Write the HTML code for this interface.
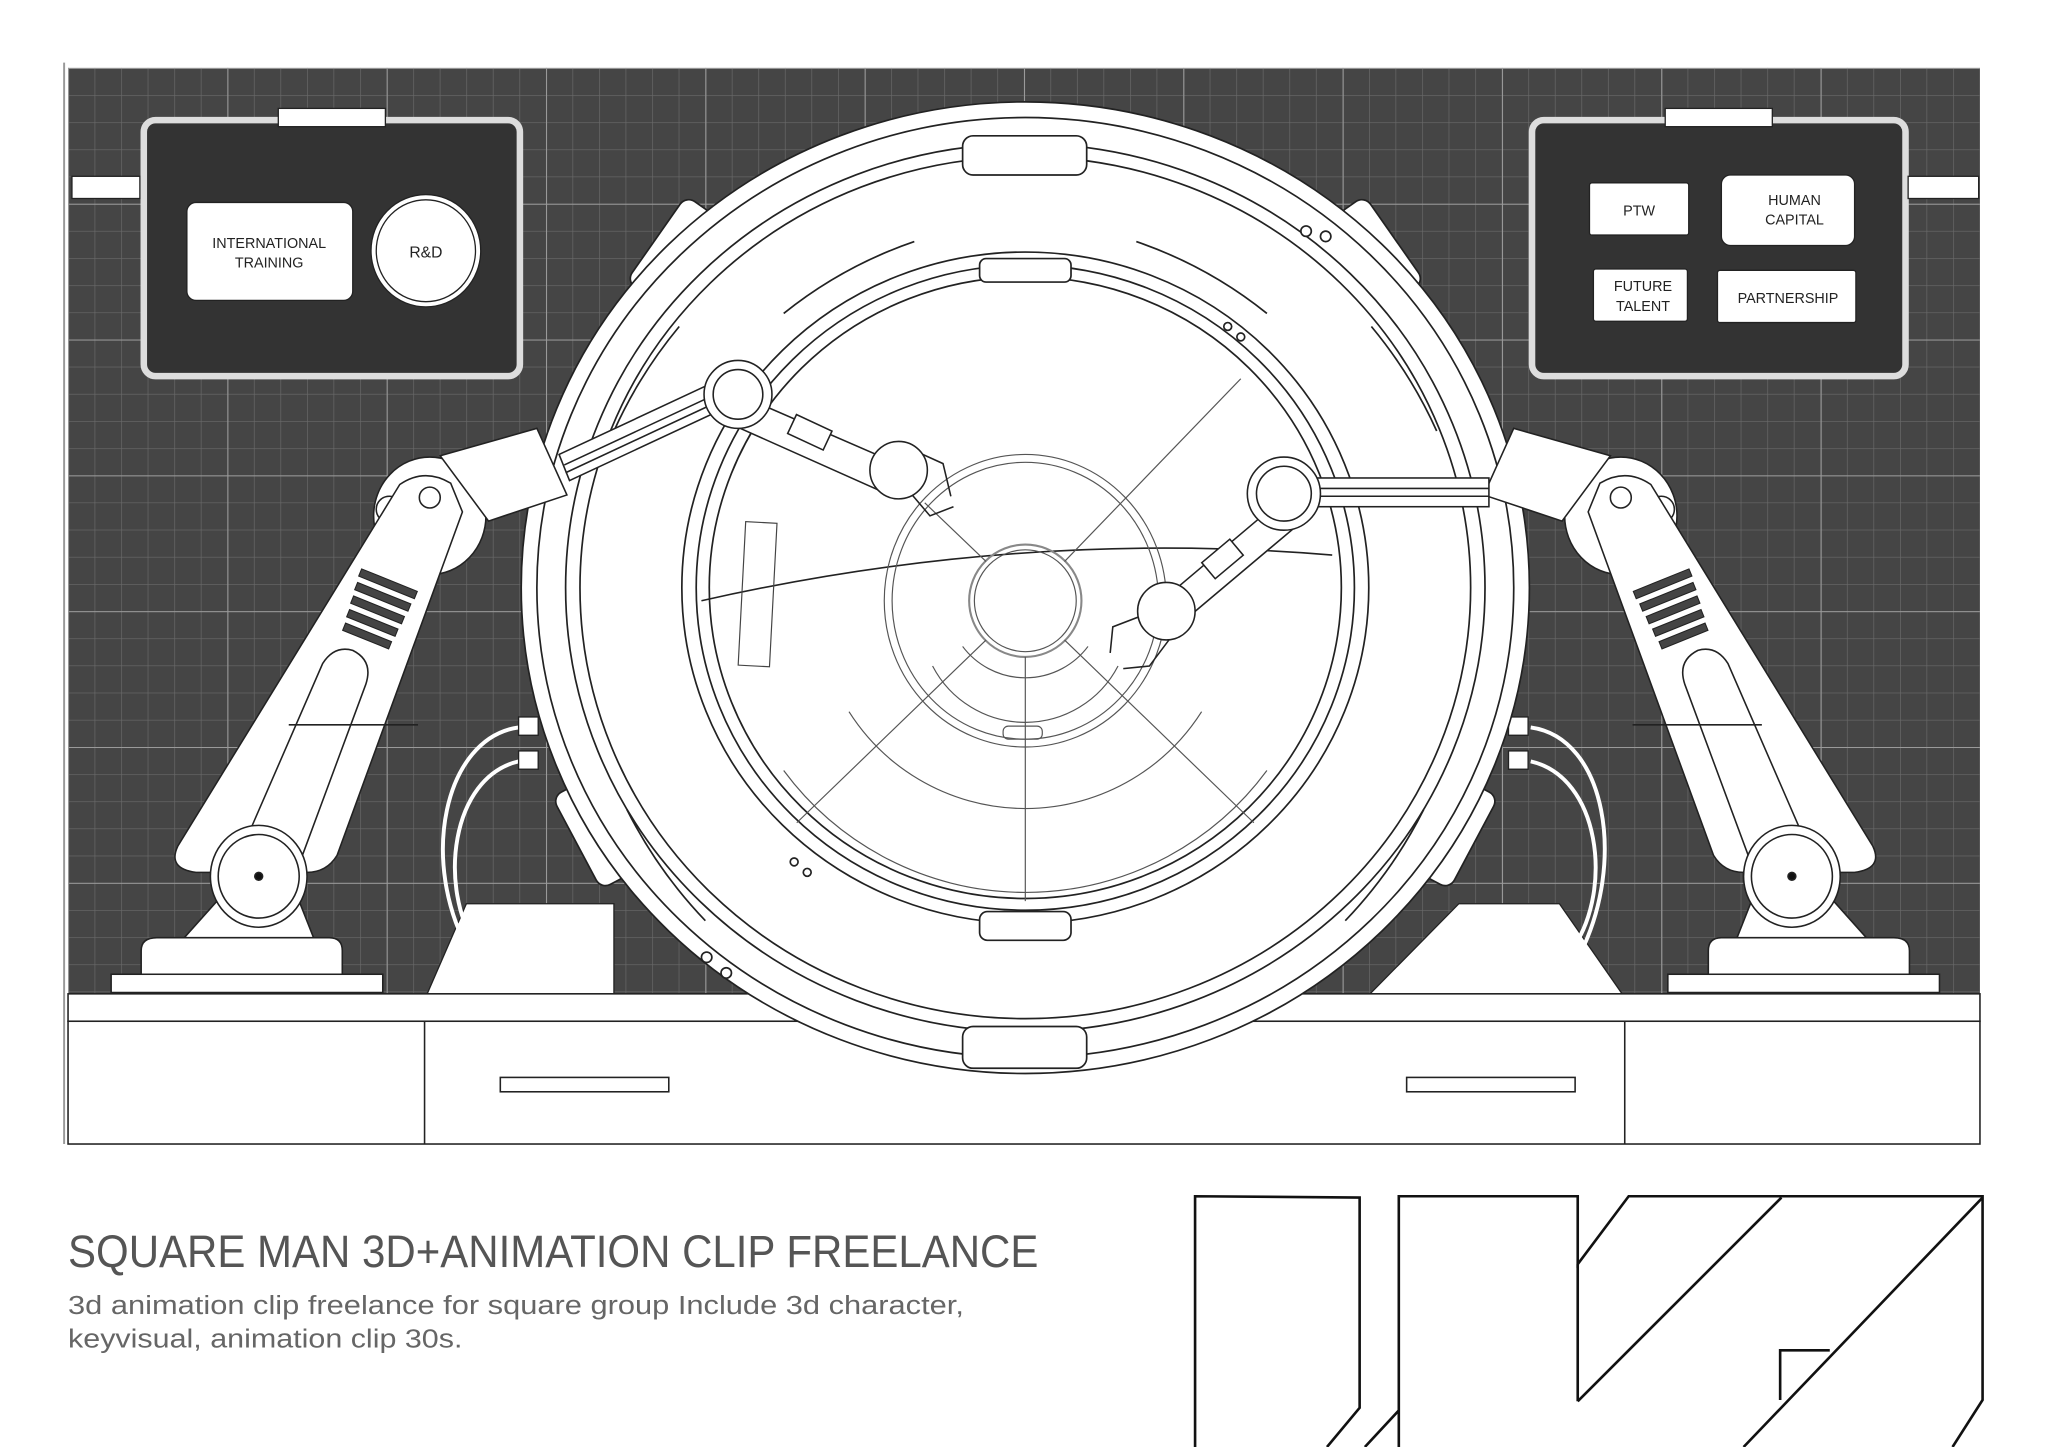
<!DOCTYPE html>
<html><head><meta charset="utf-8"><style>
html,body{margin:0;padding:0;background:#fff;}
svg{display:block;}
</style></head><body>
<svg width="2048" height="1447" viewBox="0 0 1568 1108" xmlns="http://www.w3.org/2000/svg">
<defs>
<pattern id="minor" x="52" y="52" width="20.33" height="20.8" patternUnits="userSpaceOnUse">
<path d="M0 0H20.33M0 0V20.8" stroke="#6a6a6a" stroke-width="1" fill="none"/>
</pattern>
<pattern id="major" x="52" y="52" width="122" height="104" patternUnits="userSpaceOnUse">
<path d="M0 0H122M0 0V104" stroke="#9a9a9a" stroke-width="1.6" fill="none"/>
</pattern>
</defs>
<rect width="1568" height="1108" fill="#fff"/>
<rect x="52" y="52" width="1464" height="710" fill="#454545"/>
<rect x="52" y="52" width="1464" height="710" fill="url(#minor)"/>
<rect x="52" y="52" width="1464" height="710" fill="url(#major)"/>
<line x1="49" y1="48" x2="49" y2="876" stroke="#999" stroke-width="1.5"/>

<rect x="110" y="92" width="288" height="196" rx="9" fill="#333" stroke="#ddd" stroke-width="5"/>
<rect x="213" y="83" width="82" height="14" fill="#fff" stroke="#222" stroke-width="1"/>
<rect x="55" y="135" width="52" height="17" fill="#fff" stroke="#222" stroke-width="1"/>
<rect x="143" y="155" width="127" height="75" rx="7" fill="#fff" stroke="#222"/>
<text x="206" y="190" font-family="Liberation Sans, sans-serif" font-size="11" text-anchor="middle" fill="#222">INTERNATIONAL</text>
<text x="206" y="205" font-family="Liberation Sans, sans-serif" font-size="11" text-anchor="middle" fill="#222">TRAINING</text>
<ellipse cx="326" cy="192" rx="42" ry="43" fill="#fff" stroke="#222"/>
<ellipse cx="326" cy="192" rx="38" ry="39" fill="none" stroke="#222"/>
<text x="326" y="197" font-family="Liberation Sans, sans-serif" font-size="12" text-anchor="middle" fill="#222">R&amp;D</text>

<rect x="1173" y="92" width="286" height="196" rx="9" fill="#333" stroke="#ddd" stroke-width="5"/>
<rect x="1275" y="83" width="82" height="14" fill="#fff" stroke="#222"/>
<rect x="1461" y="135" width="54" height="17" fill="#fff" stroke="#222"/>
<rect x="1217" y="140" width="76" height="40" rx="2" fill="#fff" stroke="#222"/>
<text x="1255" y="165" font-family="Liberation Sans, sans-serif" font-size="11" text-anchor="middle" fill="#222">PTW</text>
<rect x="1318" y="134" width="102" height="54" rx="7" fill="#fff" stroke="#222"/>
<text x="1374" y="157" font-family="Liberation Sans, sans-serif" font-size="11" text-anchor="middle" fill="#222">HUMAN</text>
<text x="1374" y="172" font-family="Liberation Sans, sans-serif" font-size="11" text-anchor="middle" fill="#222">CAPITAL</text>
<rect x="1220" y="206" width="72" height="40" rx="2" fill="#fff" stroke="#222"/>
<text x="1258" y="223" font-family="Liberation Sans, sans-serif" font-size="11" text-anchor="middle" fill="#222">FUTURE</text>
<text x="1258" y="238" font-family="Liberation Sans, sans-serif" font-size="11" text-anchor="middle" fill="#222">TALENT</text>
<rect x="1315" y="207" width="106" height="40" rx="2" fill="#fff" stroke="#222"/>
<text x="1369" y="232" font-family="Liberation Sans, sans-serif" font-size="11" text-anchor="middle" fill="#222">PARTNERSHIP</text>

<polygon points="357,692 470,692 470,761 327,761" fill="#fff" stroke="#222"/>
<polygon points="1117,692 1194,692 1242,761 1049,761" fill="#fff" stroke="#222"/>

<g fill="none" stroke="#fff" stroke-width="3">
<path d="M397 557 C340 565 320 660 360 730"/>
<path d="M397 583 C345 595 335 680 365 725"/>
<path d="M1172 557 C1230 565 1245 660 1210 730"/>
<path d="M1172 583 C1225 595 1235 680 1205 725"/>
</g>
<rect x="397" y="549" width="15" height="14" fill="#fff" stroke="#222"/>
<rect x="397" y="575" width="15" height="14" fill="#fff" stroke="#222"/>
<rect x="1155" y="549" width="15" height="14" fill="#fff" stroke="#222"/>
<rect x="1155" y="575" width="15" height="14" fill="#fff" stroke="#222"/>

<g stroke="#222" stroke-width="1.2" fill="#fff">
<rect x="52" y="761" width="1464" height="21"/>
<rect x="52" y="782" width="1464" height="94"/>
<line x1="325" y1="782" x2="325" y2="876"/>
<line x1="1244" y1="782" x2="1244" y2="876"/>
<rect x="383" y="825" width="129" height="11"/>
<rect x="1077" y="825" width="129" height="11"/>
</g>

<g stroke="#222" stroke-width="1.3">
<rect x="500" y="150" width="26" height="80" rx="8" transform="rotate(35 513 190)" fill="#fff"/>
<rect x="1044" y="150" width="26" height="80" rx="8" transform="rotate(-35 1057 190)" fill="#fff"/>
<rect x="1106" y="600" width="24" height="80" rx="8" transform="rotate(28 1118 640)" fill="#fff"/>
<rect x="440" y="600" width="24" height="80" rx="8" transform="rotate(-28 452 640)" fill="#fff"/>
<ellipse cx="785" cy="450" rx="386" ry="372" fill="#fff"/>
<ellipse cx="785" cy="450" rx="374" ry="360" fill="none"/>
<ellipse cx="785" cy="450" rx="352" ry="340" fill="none"/>
<ellipse cx="785" cy="450" rx="341" ry="330" fill="none"/>
<ellipse cx="785" cy="450" rx="263" ry="257" fill="none"/>
<ellipse cx="785" cy="450" rx="252" ry="247" fill="none"/>
<ellipse cx="785" cy="450" rx="242" ry="238" fill="none"/>
<path d="M600 240 A330 330 0 0 1 700 185" fill="none"/>
<path d="M870 185 A330 330 0 0 1 970 240" fill="none"/>
<path d="M470 330 A350 350 0 0 1 520 250" fill="none"/>
<path d="M1100 330 A350 350 0 0 0 1050 250" fill="none"/>
<path d="M480 620 A350 350 0 0 0 540 705" fill="none"/>
<path d="M1090 620 A350 350 0 0 1 1030 705" fill="none"/>
<rect x="737" y="104" width="95" height="30" rx="8" fill="#fff"/>
<rect x="737" y="786" width="95" height="32" rx="8" fill="#fff"/>
<rect x="750" y="198" width="70" height="18" rx="5" fill="#fff"/>
<rect x="750" y="698" width="70" height="22" rx="6" fill="#fff"/>
<circle cx="1000" cy="177" r="4" fill="#fff"/><circle cx="1015" cy="181" r="4" fill="#fff"/>
<circle cx="541" cy="733" r="4" fill="#fff"/><circle cx="556" cy="745" r="4" fill="#fff"/>
<circle cx="940" cy="250" r="3" fill="#fff"/><circle cx="950" cy="258" r="3" fill="#fff"/>
<circle cx="608" cy="660" r="3" fill="#fff"/><circle cx="618" cy="668" r="3" fill="#fff"/>
</g>
<g stroke="#555" stroke-width="0.9" fill="none">
<path d="M537 460 Q780 405 1020 425" stroke="#222" stroke-width="1.2"/>
<ellipse cx="785" cy="460" rx="108" ry="112"/>
<ellipse cx="785" cy="460" rx="102" ry="106"/>
<circle cx="785" cy="460" r="43" stroke="#888" stroke-width="1.6"/>
<circle cx="785" cy="460" r="39"/>
<path d="M737 495 A60 60 0 0 0 833 495"/>
<path d="M714 510 A80 80 0 0 0 856 510"/>
<path d="M650 545 A160 160 0 0 0 920 545"/>
<path d="M600 590 A230 230 0 0 0 970 590"/>
<line x1="785" y1="503" x2="785" y2="690"/>
<line x1="755" y1="490" x2="610" y2="630"/>
<line x1="815" y1="490" x2="960" y2="630"/>
<line x1="755" y1="430" x2="708" y2="385"/>
<line x1="815" y1="430" x2="950" y2="290"/>
<rect x="568" y="400" width="24" height="110" fill="none" stroke="#444" transform="rotate(3 580 455)"/>
<rect x="768" y="556" width="30" height="10" rx="4"/>
</g>

<g stroke="#222" stroke-width="1.2" fill="#fff">
<g id="arm">
<rect x="85" y="746" width="208" height="14"/>
<path d="M108 746 L108 728 Q108 718 120 718 L252 718 Q262 718 262 728 L262 746 Z"/>
<polygon points="141,718 240,718 225,680 175,680"/>
<ellipse cx="329" cy="395" rx="43" ry="45"/>
<circle cx="298" cy="390" r="10"/>
<path d="M306 371 Q325 358 345 370 L354 392 L258 655 Q250 668 235 668 L150 668 Q128 665 136 648 Z"/>
<path d="M180 662 L247 508 Q256 494 270 498 Q286 506 280 524 L227 667" fill="none"/>
<line x1="221" y1="555" x2="320" y2="555"/>
<circle cx="329" cy="381" r="8"/>
<g fill="#444" stroke="#222" stroke-width="0.8">
<rect x="274" y="444" width="46" height="6" transform="rotate(22 297 447)"/>
<rect x="271" y="454" width="44" height="6" transform="rotate(22 293 457)"/>
<rect x="268" y="464" width="42" height="6" transform="rotate(22 289 467)"/>
<rect x="265" y="474" width="40" height="6" transform="rotate(22 285 477)"/>
<rect x="262" y="484" width="38" height="6" transform="rotate(22 281 487)"/>
</g>
<ellipse cx="198" cy="671" rx="37" ry="39"/>
<ellipse cx="198" cy="671" rx="31" ry="32"/>
<circle cx="198" cy="671" r="3" fill="#111"/>
<polygon points="337,349 411,328 434,379 374,399"/>
</g>
<use href="#arm" transform="translate(1570 0) scale(-1 1)"/>
<polygon points="428,348 548,292 556,312 436,368"/>
<line x1="432" y1="356" x2="552" y2="300"/>
<line x1="433" y1="362" x2="553" y2="306"/>
<path d="M565 302 L680 352 L672 375 L560 325 Z"/>
<circle cx="565" cy="302" r="26"/><circle cx="565" cy="302" r="19"/>
<rect x="605" y="323" width="30" height="16" transform="rotate(25 620 331)"/>
<path d="M700 345 L722 355 L728 380 M695 375 L712 395 L730 388" fill="none"/>
<circle cx="688" cy="360" r="22"/>
<rect x="995" y="366" width="145" height="22"/>
<line x1="995" y1="374" x2="1140" y2="374"/><line x1="995" y1="380" x2="1140" y2="380"/>
<path d="M970 392 L880 468 L895 485 L990 405 Z"/>
<rect x="922" y="420" width="28" height="16" transform="rotate(-40 936 428)"/>
<circle cx="983" cy="378" r="28"/><circle cx="983" cy="378" r="21"/>
<path d="M878 470 L852 480 L850 500 M895 490 L880 510 L860 512" fill="none"/>
<circle cx="893" cy="468" r="22"/>
</g>

<text x="52" y="970" font-family="Liberation Sans, sans-serif" font-size="35" fill="#555" textLength="743" lengthAdjust="spacingAndGlyphs">SQUARE MAN 3D+ANIMATION CLIP FREELANCE</text>
<text x="52" y="1006" font-family="Liberation Sans, sans-serif" font-size="20" fill="#666" textLength="686" lengthAdjust="spacingAndGlyphs">3d animation clip freelance for square group Include 3d character,</text>
<text x="52" y="1032" font-family="Liberation Sans, sans-serif" font-size="20" fill="#666" textLength="302" lengthAdjust="spacingAndGlyphs">keyvisual, animation clip 30s.</text>

<g fill="none" stroke="#111" stroke-width="2">
<path d="M915 1108 L915 916 L1041 917 L1041 1078 L1016 1108"/>
<path d="M1045 1108 L1071 1080"/>
<path d="M1071 1108 L1071 916 L1208 916 L1208 968 L1247 916 L1518 916 L1518 1072 L1495 1108"/>
<path d="M1208 1073 L1208 968"/>
<path d="M1208 1073 L1364 917"/>
<path d="M1518 917 L1335 1108"/>
<path d="M1363 1072 L1363 1034 L1401 1034"/>
</g>
</svg>
</body></html>
